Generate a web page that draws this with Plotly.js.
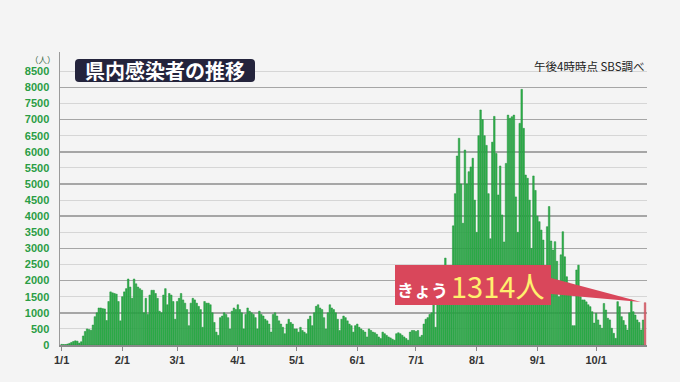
<!DOCTYPE html>
<html><head><meta charset="utf-8">
<script src="https://cdn.plot.ly/plotly-3.0.1.min.js"></script>
<style>html,body{margin:0;padding:0;background:#f4f4f4;}</style>
</head><body><div id="chart" style="width:680px;height:382px;"></div>
<script>
// Daily new cases (Shizuoka, 2022)
const startYear = 2022;
const janCases = [20,15,15,30,50,80,110,130,120,60,100,280,420,500,480,460,620,880,1000,1150,1150,1130,1120,760,1350,1650,1620,1600,1580,1350,750];
const febCases = [1500,1650,1750,2050,1800,1450,2050,1900,1800,1750,1700,1000,1450,950,1550,1700,1700,1600,1450,1050,1000,1550,1750,1250,1600,1550,1350,800];
const marCases = [1350,1450,1600,1400,1300,1100,600,1300,1450,1400,1300,1200,1100,550,1350,1300,1300,1250,1000,700,400,300,850,900,1000,950,850,500,1050,1150,1100];
const aprCases = [1250,1100,1000,500,950,1150,1050,1000,950,850,500,1050,950,900,800,750,650,400,950,1000,900,750,650,550,350,650,800,700,650,500];
const mayCases = [500,400,550,450,400,350,800,900,600,1000,1200,1250,1150,1100,850,500,1000,1250,1150,1100,1000,800,450,800,900,850,750,650,600,400,600];
const junCases = [650,550,500,450,400,250,500,450,400,380,330,250,200,400,350,300,250,220,180,150,350,380,350,300,250,200,150,400,450,450];
const julCases = [420,450,250,300,650,800,850,950,1000,1240,550,1500,1700,1900,2200,2700,2300,1300,2400,3700,4700,5870,6420,5000,3780,6056,5000,5383,5530,5800,4500];
const augCases = [3500,6500,7300,7000,6500,6200,4700,3300,6300,7100,5950,4660,5560,4040,3200,5640,7140,7040,7090,7140,4600,3500,6885,7940,6730,5280,5180,4500,3000,5250,4800];
const sepCases = [4000,3830,3570,3260,2000,3675,4300,3230,2950,3210,2600,1500,2800,3520,2740,2120,1920,1600,600,600,2330,2480,1500,1400,1400,1340,1250,1190,1035,680];
const octCases = [983,780,620,520,1290,1087,830,780,520,363,207,1346,1190,880,760,620,466,1000,1400,1035,931,780,700,466,776,1314];

const monthTickDates = ['2022-01-01','2022-02-01','2022-03-01','2022-04-01','2022-05-01','2022-06-01','2022-07-01','2022-08-01','2022-09-01','2022-10-01'];
const monthTickLabels = ['1/1','2/1','3/1','4/1','5/1','6/1','7/1','8/1','9/1','10/1'];
const yTickValues = [0,500,1000,1500,2000,2500,3000,3500,4000,4500,5000,5500,6000,6500,7000,7500,8000,8500];
const yMajorValues = [0,1000,2000,3000,4000,5000,6000,7000,8000];

const titleText = '県内感染者の推移';
const sourceText = '午後4時時点 SBS調べ';
const unitText = '（人）';
const todayPrefix = 'きょう';

const cases = [].concat(janCases, febCases, marCases, aprCases, mayCases, junCases, julCases, augCases, sepCases, octCases);
const dates = cases.map((_, i) => new Date(Date.UTC(startYear, 0, 1 + i)).toISOString().slice(0, 10));
const lastIdx = cases.length - 1;
const todayValue = cases[lastIdx];
const DAY = 86400000;

const jp = '"Noto Sans CJK JP", "Noto Sans", sans-serif';
const lat = '"Liberation Sans", Arial, sans-serif';

const traces = [
  {type: 'bar', x: dates.slice(0, lastIdx), y: cases.slice(0, lastIdx), width: DAY * 0.8,
   marker: {color: '#2fb14b', line: {color: '#1f8f38', width: 0.5}}, hoverinfo: 'x+y'},
  {type: 'bar', x: [dates[lastIdx]], y: [todayValue], width: DAY * 0.8, yaxis: 'y2',
   marker: {color: '#d8606c', line: {color: '#c24a57', width: 0.5}}, hoverinfo: 'x+y'}
];

function P(px, py) { return [(px - 60) / 587, (345 - py) / 293]; }
function roundRect(x0p, y0p, x1p, y1p, r) {
  const [x0, y1] = P(x0p, y0p), [x1, y0] = P(x1p, y1p);
  const rx = r / 587, ry = r / 293;
  return `M ${x0+rx},${y0} L ${x1-rx},${y0} Q ${x1},${y0} ${x1},${y0+ry} L ${x1},${y1-ry} Q ${x1},${y1} ${x1-rx},${y1} L ${x0+rx},${y1} Q ${x0},${y1} ${x0},${y1-ry} L ${x0},${y0+ry} Q ${x0},${y0} ${x0+rx},${y0} Z`;
}
const b0 = P(395, 305), b1 = P(551, 265);
const t1 = P(551, 278), t2 = P(551, 294), t3 = P(641, 302);

const layout = {
  width: 680, height: 382, autosize: false,
  margin: {l: 60, r: 33, t: 52, b: 37},
  paper_bgcolor: '#f4f4f4', plot_bgcolor: '#f4f4f4',
  showlegend: false, barmode: 'overlay',
  xaxis: {type: 'date', range: ['2021-12-31 04:00', '2022-10-27 00:00'],
    tickmode: 'array', tickvals: monthTickDates, ticktext: monthTickLabels,
    ticks: 'outside', ticklen: 4, tickcolor: '#888', showgrid: false, zeroline: false,
    showline: true, linecolor: '#8a8a8a', linewidth: 1.5,
    tickfont: {family: lat, size: 11, color: '#333', weight: 'bold'}},
  yaxis: {range: [0, 9100], tickmode: 'array', tickvals: yTickValues,
    ticks: 'outside', ticklen: 7, tickcolor: 'rgba(0,0,0,0)',
    showgrid: true, gridcolor: '#d6d6d6', gridwidth: 1, zeroline: false,
    showline: true, linecolor: '#9a9a9a', linewidth: 1.5,
    tickfont: {family: lat, size: 11, color: '#2a9d45', weight: 'bold'}},
  yaxis2: {overlaying: 'y', range: [0, 9100], tickmode: 'array', tickvals: yMajorValues,
    showticklabels: false, showgrid: true, gridcolor: '#a6a6a6', gridwidth: 1.5, zeroline: false, showline: false},
  shapes: [
    {type: 'path', xref: 'paper', yref: 'paper', path: roundRect(75, 59, 255, 82, 4), fillcolor: '#24243c', line: {width: 0}, layer: 'above'},
    {type: 'rect', xref: 'paper', yref: 'paper', x0: b0[0], y0: b0[1], x1: b1[0], y1: b1[1], fillcolor: '#d9475b', line: {width: 0}, layer: 'above'},
    {type: 'path', xref: 'paper', yref: 'paper', path: `M ${t1[0]},${t1[1]} L ${t2[0]},${t2[1]} L ${t3[0]},${t3[1]} Z`, fillcolor: '#d9475b', line: {width: 0}, layer: 'above'}
  ],
  annotations: [
    {xref: 'paper', yref: 'paper', x: P(165, 70.5)[0], y: P(165, 70.5)[1], text: titleText, showarrow: false,
     xanchor: 'center', yanchor: 'middle', font: {family: jp, size: 20, color: '#ffffff', weight: 'bold'}},
    {xref: 'paper', yref: 'paper', x: 1.0, y: P(647, 65.5)[1], text: sourceText, showarrow: false,
     xanchor: 'right', yanchor: 'middle', font: {family: jp, size: 11.5, color: '#222'}},
    {xref: 'paper', yref: 'paper', x: P(42.5, 59)[0], y: P(42.5, 59)[1], text: unitText, showarrow: false,
     xanchor: 'center', yanchor: 'middle', font: {family: jp, size: 8.5, color: '#3b6b48'}},
    {xref: 'paper', yref: 'paper', x: P(422, 289)[0], y: P(422, 289)[1], text: todayPrefix, showarrow: false,
     xanchor: 'center', yanchor: 'middle', font: {family: jp, size: 17, color: '#ffffff', weight: 'bold'}},
    {xref: 'paper', yref: 'paper', x: P(497, 285)[0], y: P(497, 285)[1], text: todayValue + '人', showarrow: false,
     xanchor: 'center', yanchor: 'middle', font: {family: jp, size: 29, color: '#fff06e'}}
  ]
};

Plotly.newPlot('chart', traces, layout, {displayModeBar: false, staticPlot: true});
</script></body></html>
